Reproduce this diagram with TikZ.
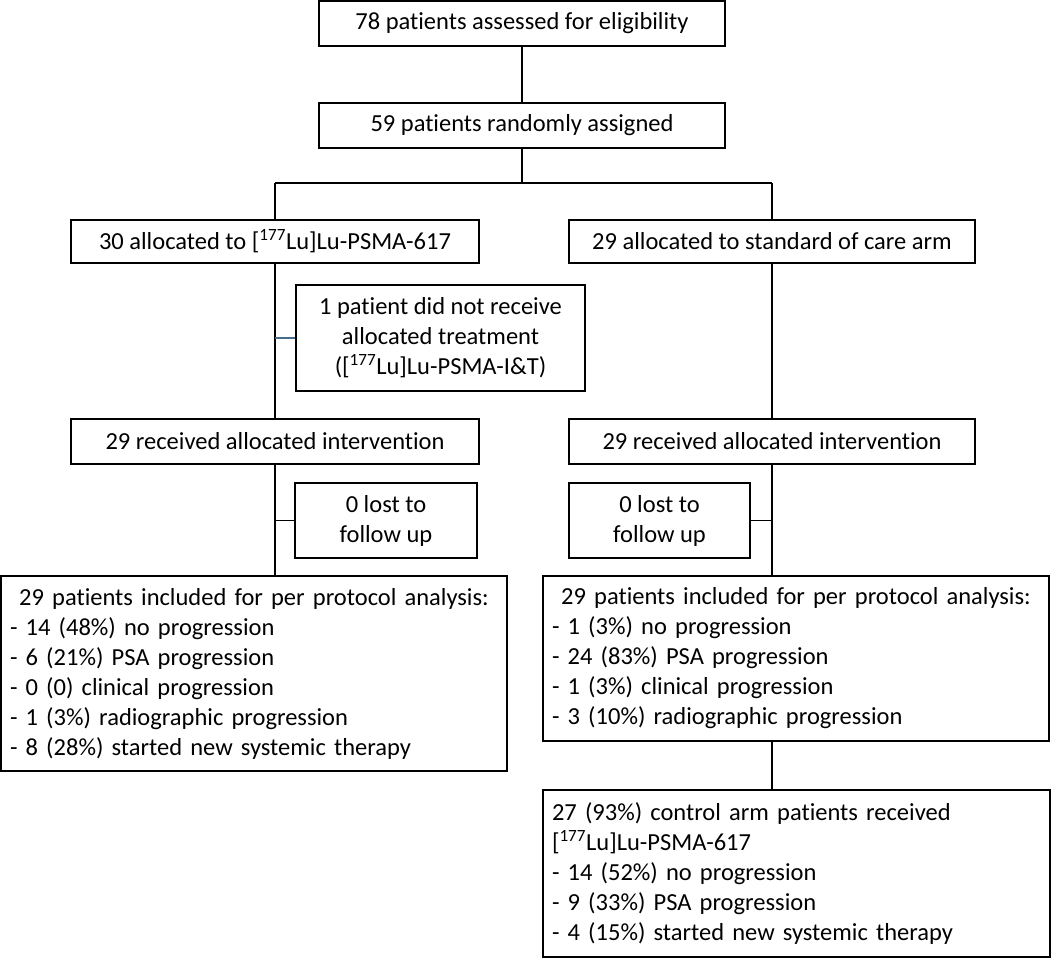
\documentclass[tikz,border=0pt]{standalone}
\usepackage{fontspec}
\setmainfont{Carlito}[Ligatures=NoCommon]
\definecolor{connblue}{RGB}{70,110,140}
\begin{document}
\begin{tikzpicture}[x=1pt,y=-1pt,
  box/.style={draw=black, line width=1.8pt, inner sep=0pt, align=center,
    font=\fontsize{24.5}{30}\selectfont},
  listbox/.style={box, align=left, inner xsep=9pt, inner ysep=0pt},
  conn/.style={line width=1.8pt, draw=black},
  bconn/.style={line width=1.8pt, draw=connblue}]
\useasboundingbox (0,0) rectangle (1051,964);

\node[box, minimum width=406, minimum height=45] (b1) at (522,23.5) {78 patients assessed for eligibility};
\node[box, minimum width=406, minimum height=45] (b2) at (522,125.5) {59 patients randomly assigned};
\node[box, minimum width=408, minimum height=43] (b3) at (275,241.5) {30 allocated to [\textsuperscript{177}Lu]Lu-PSMA-617};
\node[box, minimum width=406, minimum height=43] (b4) at (772,241.5) {29 allocated to standard of care arm};
\node[box, minimum width=289, minimum height=106] (b5) at (440.5,338) {1 patient did not receive\\allocated treatment\\([\textsuperscript{177}Lu]Lu-PSMA-I\&T)};
\node[box, minimum width=408, minimum height=45] (b6) at (275,441.5) {29 received allocated intervention};
\node[box, minimum width=406, minimum height=45] (b7) at (772,441.5) {29 received allocated intervention};
\node[box, minimum width=182, minimum height=75] (lostL) at (386,520.5) {0 lost to\\follow up};
\node[box, minimum width=181, minimum height=75] (lostR) at (659.5,520.5) {0 lost to\\follow up};

\node[listbox, text width=488, minimum height=195] (bigL) at (254,673.5) {%
\makebox[\linewidth][c]{29 patients included for per protocol analysis:}\\
- 14 (48\%) no progression\\
- 6 (21\%) PSA progression\\
- 0 (0) clinical progression\\
- 1 (3\%) radiographic progression\\
- 8 (28\%) started new systemic therapy};

\node[listbox, text width=488, minimum height=165] (bigR) at (796,658.5) {%
\makebox[\linewidth][c]{29 patients included for per protocol analysis:}\\
- 1 (3\%) no progression\\
- 24 (83\%) PSA progression\\
- 1 (3\%) clinical progression\\
- 3 (10\%) radiographic progression};

\node[listbox, text width=489, minimum height=167] (bot) at (796.5,873.5) {%
27 (93\%) control arm patients received\\
{[}\textsuperscript{177}Lu]Lu-PSMA-617\\
- 14 (52\%) no progression\\
- 9 (33\%) PSA progression\\
- 4 (15\%) started new systemic therapy};

\coordinate (split) at (522,183);
\draw[conn] (b1.south) -- (b2.north);
\draw[conn] (b2.south) -- (split);
\draw[conn] (b3.north |- split) -- (b4.north |- split);
\draw[conn] (b3.north |- split) -- (b3.north);
\draw[conn] (b4.north |- split) -- (b4.north);
\draw[conn] (b3.south) -- (b6.north);
\draw[conn] (b4.south) -- (b7.north);
\draw[bconn] (b5.west) -- (b5.west -| b3.south);
\draw[conn] (b6.south) -- (b6.south |- bigL.north);
\draw[conn] (b7.south) -- (b7.south |- bigR.north);
\draw[conn] (lostL.west) -- (lostL.west -| b6.south);
\draw[conn] (lostR.east) -- (lostR.east -| b7.south);
\draw[conn] (bigR.south -| b7.south) -- (bot.north -| b7.south);
\end{tikzpicture}
\end{document}
